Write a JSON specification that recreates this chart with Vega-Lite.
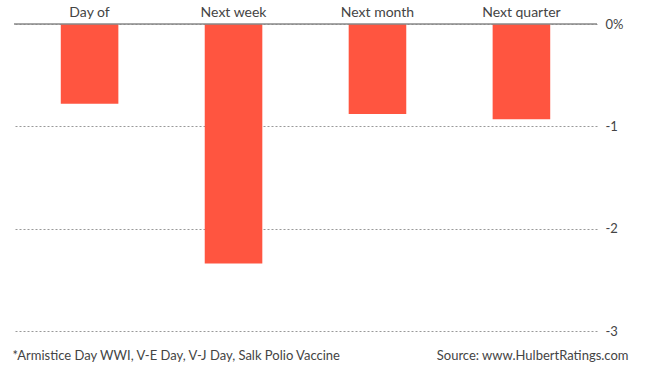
{
  "$schema": "https://vega.github.io/schema/vega-lite/v6.json",
  "width": 583,
  "height": 307,
  "autosize": {"type": "none"},
  "padding": {"left": 14, "top": 24, "right": 63, "bottom": 46},
  "config": {"view": {"stroke": null}, "font": "Lato"},
  "data": {
    "values": [
      {"period": "Day of", "change": -0.78},
      {"period": "Next week", "change": -2.34},
      {"period": "Next month", "change": -0.88},
      {"period": "Next quarter", "change": -0.93}
    ]
  },
  "layer": [
    {
      "mark": {"type": "bar", "color": "#FF5540"},
      "encoding": {
        "x": {
          "field": "period",
          "type": "nominal",
          "sort": null,
          "scale": {"paddingInner": 0.6, "paddingOuter": 0.325},
          "axis": {
            "orient": "top",
            "domain": false,
            "ticks": false,
            "labelAngle": 0,
            "labelFontSize": 14,
            "labelColor": "#444",
            "labelPadding": 5,
            "title": "*Armistice Day WWI, V-E Day, V-J Day, Salk Polio Vaccine",
            "titleX": -2,
            "titleY": 331,
            "titleAlign": "left",
            "titleAnchor": "start",
            "titleBaseline": "middle",
            "titleFontSize": 13,
            "titleFontWeight": "normal",
            "titleColor": "#444"
          }
        },
        "y": {
          "field": "change",
          "type": "quantitative",
          "scale": {"domain": [-3, 0], "nice": false},
          "axis": {
            "orient": "right",
            "values": [0, -1, -2, -3],
            "domain": false,
            "ticks": false,
            "labelPadding": 8,
            "labelFontSize": 13,
            "labelColor": "#444",
            "labelExpr": "datum.value == 0 ? '0%' : '' + datum.value",
            "grid": true,
            "gridDash": [2, 2],
            "gridColor": "#999",
            "title": "Source: www.HulbertRatings.com",
            "titleAngle": 0,
            "titleX": 31,
            "titleY": 331,
            "titleAlign": "right",
            "titleBaseline": "middle",
            "titleFontSize": 13,
            "titleFontWeight": "normal",
            "titleColor": "#444"
          }
        }
      }
    },
    {
      "data": {"values": [{"zero": 0}]},
      "mark": {"type": "rule", "color": "#888", "strokeWidth": 1.5},
      "encoding": {"y": {"field": "zero", "type": "quantitative"}}
    }
  ]
}
